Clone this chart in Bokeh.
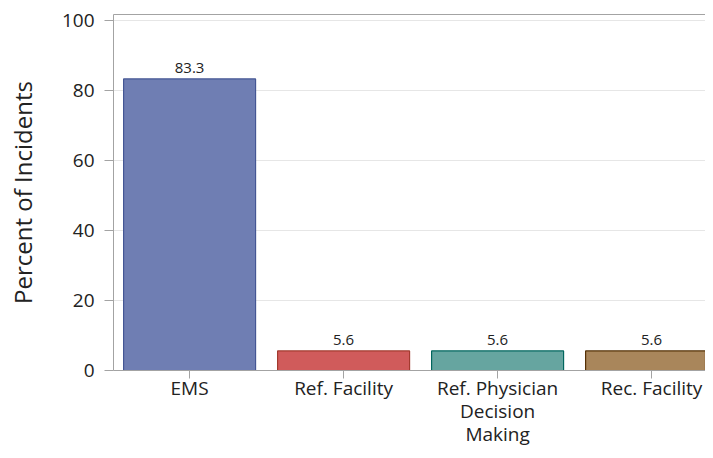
from bokeh.plotting import figure
from bokeh.models import ColumnDataSource, Range1d, FixedTicker, LabelSet, LinearAxis
from bokeh.core.properties import value
from bokeh.embed import file_html
from bokeh.resources import INLINE

categories = ["EMS", "Ref. Facility", "Ref. Physician\nDecision\nMaking", "Rec. Facility"]
percents = [83.3, 5.6, 5.6, 5.6]
labels = ["83.3", "5.6", "5.6", "5.6"]
fill_colors = ["#6F7EB3", "#D05B5B", "#66A5A0", "#A9865B"]
line_colors = ["#445694", "#A23A2E", "#01665E", "#543005"]
y_ticks = [0, 20, 40, 60, 80, 100]

FONT = "Open Sans"
AXIS_GRAY = "#a3a3a3"
TEXT = "#222222"
xs = list(range(len(categories)))
src = ColumnDataSource(dict(x=xs, top=percents, lab=labels, fill=fill_colors, line=line_colors))

p = figure(width=705, height=450, output_backend="svg", toolbar_location=None,
           x_range=Range1d(-0.494, 3.35), y_range=Range1d(0, 101.7),
           min_border_left=113, min_border_right=0, min_border_top=14, min_border_bottom=78)

p.vbar(x="x", top="top", bottom=0, width=0.857, source=src,
       fill_color="fill", line_color="line", line_width=1.2)

p.add_layout(LabelSet(x="x", y="top", text="lab", source=src, text_align="center",
                      text_baseline="bottom", y_offset=6, text_font=value(FONT),
                      text_font_size="15px", text_color=TEXT))

p.xaxis.ticker = FixedTicker(ticks=xs)
p.xaxis.major_label_overrides = {i: c for i, c in enumerate(categories)}
p.yaxis.ticker = FixedTicker(ticks=y_ticks)
p.yaxis.axis_label = "Percent of Incidents"

for ax in (p.xaxis, p.yaxis):
    ax.major_label_text_font = FONT
    ax.major_label_text_font_size = "19px"
    ax.major_label_text_color = TEXT
    ax.axis_line_color = AXIS_GRAY
    ax.major_tick_line_color = AXIS_GRAY
    ax.major_tick_out = 9
    ax.major_tick_in = 0
    ax.minor_tick_line_color = None

p.xaxis.major_tick_out = 8
p.xaxis.major_label_standoff = -4
p.xaxis.major_label_text_line_height = 0.9
p.yaxis.major_label_standoff = 10

p.yaxis.axis_label_text_font = FONT
p.yaxis.axis_label_text_font_size = "24px"
p.yaxis.axis_label_text_font_style = "normal"
p.yaxis.axis_label_text_color = TEXT
p.yaxis.axis_label_standoff = 20

top_axis = LinearAxis(ticker=FixedTicker(ticks=[]), axis_line_color=AXIS_GRAY,
                      major_tick_line_color=None, minor_tick_line_color=None,
                      major_label_text_font_size="1px", major_label_standoff=0)
p.add_layout(top_axis, "above")

p.xgrid.grid_line_color = None
p.ygrid.grid_line_color = "#e6e6e6"
p.outline_line_color = None
p.background_fill_color = "white"
p.border_fill_color = "white"

open("out.html", "w").write(file_html(p, INLINE))
